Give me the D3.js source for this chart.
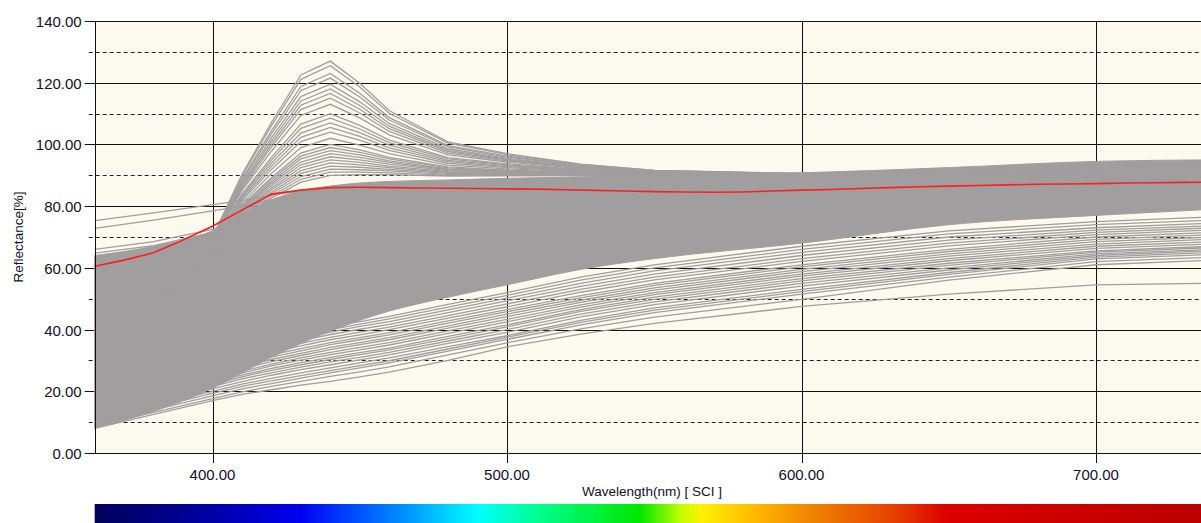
<!DOCTYPE html>
<html>
<head>
<meta charset="utf-8">
<script src="https://cdn.jsdelivr.net/npm/d3@7"></script>
<style>
  body { margin: 0; background: #fff; }
  text { font-family: "Liberation Sans", Arial, sans-serif; fill: #10102a; }
</style>
</head>
<body>
<div id="chart"></div>
<script>
// wavelengths (nm) where the gray curves are sampled
var wavelengths = [360, 380, 400, 410, 420, 430, 440, 450, 460, 480, 500, 525, 550, 600, 650, 700, 740];

// red (selected) sample, every 10 nm
var redWavelengths = [360, 370, 380, 390, 400, 410, 420, 430, 440, 450, 460, 470, 480, 490, 500, 510, 520, 530, 540, 550,
                      560, 570, 580, 590, 600, 610, 620, 630, 640, 650, 660, 670, 680, 690, 700, 710, 720, 730, 740];
var redCurve = [60.5, 62.5, 64.9, 69, 73.5, 78.7, 83.9, 85.2, 86, 86.1, 86, 85.9, 85.8, 85.7, 85.6, 85.5, 85.3, 85.1, 84.9, 84.7,
                84.6, 84.5, 84.6, 84.9, 85.2, 85.4, 85.7, 86, 86.3, 86.5, 86.7, 86.9, 87.1, 87.2, 87.3, 87.5, 87.6, 87.7, 87.8];

// envelope of the dense bundle of gray curves
var coreUpper = [64, 67, 72, 77, 82, 85, 86.5, 87.5, 88, 88.5, 89, 89.5, 90, 90.8, 92.5, 94.5, 95];
var coreLower = [8, 13.5, 21, 26, 31, 35.5, 39.5, 43, 46, 50.5, 54.5, 59.5, 63, 68, 74, 77, 79];

// curves with the violet/blue peak
var peakCurves = [
  [56, 62, 70, 90.2, 107.1, 122.5, 127, 119.8, 111, 100.8, 97, 93.6, 91.6, 90.6, 91.8, 93.5, 94.2],
  [55, 61.5, 69.5, 89.6, 106.1, 121.1, 125.5, 118.6, 110.1, 100.4, 96.7, 93.5, 91.6, 90.5, 91.7, 93.4, 94],
  [54, 61, 69, 88.7, 104.4, 118.8, 123, 116.6, 108.7, 99.6, 96.2, 93.2, 91.5, 90.5, 91.6, 93.2, 94],
  [53, 60.5, 69, 88.1, 103.4, 117.4, 121.5, 115.4, 107.9, 99.2, 95.9, 93.1, 91.4, 90.4, 91.5, 93.1, 93.8],
  [52, 60, 68.5, 87.4, 102.1, 115.5, 119.5, 113.8, 106.8, 98.6, 95.5, 92.9, 91.3, 90.4, 91.5, 93, 93.8],
  [51, 59.5, 68.5, 86.8, 101.1, 114.1, 118, 112.6, 105.9, 98.1, 95.2, 92.7, 91.3, 90.3, 91.4, 93, 93.7],
  [50, 59, 68, 86.3, 100.1, 112.7, 116.5, 111.4, 105.1, 97.7, 94.9, 92.6, 91.2, 90.3, 91.4, 92.9, 93.6],
  [49, 58.5, 68, 85.7, 99.1, 111.3, 115, 110.2, 104.2, 97.2, 94.7, 92.4, 91.2, 90.2, 91.3, 92.8, 93.5],
  [48, 58, 67.5, 85, 97.8, 109.4, 113, 108.6, 103.1, 96.6, 94.3, 92.2, 91.1, 90.2, 91.3, 92.7, 93.4],
  [47, 57, 67, 83.9, 95.8, 106.6, 110, 106.2, 101.4, 95.7, 93.7, 91.9, 91, 90.1, 91.2, 92.6, 93.3],
  [46.5, 56.5, 67, 83.3, 94.9, 105.2, 108.5, 105, 100.6, 95.3, 93.4, 91.8, 90.9, 90.1, 91.2, 92.6, 93.2],
  [46, 56, 66.5, 82.8, 93.9, 103.7, 107, 103.8, 99.8, 94.8, 93.1, 91.6, 90.8, 90.1, 91.2, 92.5, 93.2],
  [45.5, 55.5, 66, 82.2, 92.9, 102.3, 105.5, 102.6, 98.9, 94.4, 92.8, 91.5, 90.8, 90, 91.1, 92.4, 93.1],
  [45, 55, 66, 81.7, 91.9, 100.9, 104, 101.4, 98.1, 93.9, 92.5, 91.3, 90.7, 90, 91.1, 92.4, 93.1],
  [44, 54, 65.5, 80.9, 90.6, 99, 102, 99.8, 97, 93.3, 92.1, 91.1, 90.6, 90, 91.1, 92.3, 93],
  [43, 53, 65, 80.2, 89.2, 97.2, 100, 98.2, 95.8, 92.7, 91.7, 90.9, 90.6, 89.9, 91, 92.2, 92.9],
  [42.5, 52.5, 64.5, 79.8, 88.6, 96.2, 99, 97.4, 95.3, 92.4, 91.5, 90.8, 90.5, 89.9, 91, 92.2, 92.9],
  [42, 52, 64.5, 79.4, 87.9, 95.3, 98, 96.6, 94.7, 92.1, 91.3, 90.7, 90.5, 89.9, 91, 92.1, 92.8],
  [41.5, 51.5, 64, 79.1, 87.3, 94.3, 97, 95.8, 94.2, 91.8, 91.1, 90.6, 90.4, 89.8, 90.9, 92.1, 92.8],
  [41, 51, 64, 78.7, 86.6, 93.4, 96, 95, 93.6, 91.5, 91, 90.5, 90.4, 89.8, 90.9, 92, 92.7],
  [40.5, 50.5, 63.5, 78.3, 85.9, 92.5, 95, 94.2, 93, 91.2, 90.8, 90.4, 90.4, 89.8, 90.9, 92, 92.7],
  [40, 50, 63.5, 78, 85.3, 91.5, 94, 93.4, 92.5, 90.9, 90.6, 90.3, 90.3, 89.8, 90.9, 91.9, 92.6],
  [39.5, 49.5, 63, 77.6, 84.6, 90.6, 93, 92.6, 91.9, 90.6, 90.4, 90.2, 90.3, 89.7, 90.8, 91.9, 92.6],
  [39, 49, 63, 77.2, 84, 89.6, 92, 91.8, 91.4, 90.3, 90.2, 90.1, 90.2, 89.7, 90.8, 91.8, 92.5],
  [38.5, 48.5, 62.5, 76.9, 83.3, 88.7, 91, 91, 90.8, 90, 90, 90, 90.2, 89.7, 90.8, 91.8, 92.5],
  [38, 48, 62.5, 76.5, 82.6, 87.8, 90, 90.2, 90.2, 89.7, 89.8, 89.9, 90.2, 89.7, 90.8, 91.7, 92.4]
];

// curves above the red one on the short-wave side
var upperCurves = [
  [75.3, 77.8, 80.5, 81.8, 83.5, 85, 86.3, 87, 87.5, 88, 88.5, 89, 89.5, 90, 91, 92, 93],
  [72.8, 75.5, 78.5, 80, 82, 83.8, 85.3, 86.3, 87, 87.6, 88.2, 88.8, 89.3, 89.8, 90.8, 91.8, 92.8],
  [66, 68.5, 72.5, 75.5, 79, 82.5, 84.8, 86, 86.8, 87.5, 88, 88.6, 89.1, 89.6, 90.6, 91.6, 92.6],
  [64.8, 67.2, 71.5, 74.5, 78, 81.5, 84, 85.5, 86.5, 87.2, 87.8, 88.4, 89, 89.5, 90.5, 91.5, 92.5]
];

// dark samples fanning out below the bundle
var lowerCurves = [
  [8, 12.5, 17, 19, 20.5, 22, 23.2, 24.7, 26.2, 30, 34.4, 38.5, 42, 47.5, 51.5, 54.5, 55],
  [8.8, 13.2, 17.6, 19.8, 21.6, 23.2, 24.8, 26.3, 27.9, 31.8, 35.7, 40.2, 44, 49.8, 56, 61, 62.5],
  [9.5, 14, 18.5, 20.8, 22.5, 24.3, 26, 27.6, 29.2, 33, 36.8, 41.5, 45.5, 51.5, 57, 62, 63.5],
  [10.3, 14.7, 19.3, 21.6, 23.4, 25.1, 26.7, 28.3, 29.9, 33.7, 37.5, 42.3, 46.3, 52.3, 57.9, 62.9, 64.4],
  [11, 15.5, 20, 22.3, 24.2, 26, 27.6, 29.2, 30.8, 34.5, 38, 43, 47, 53, 58.5, 63.5, 65],
  [11.7, 16.3, 20.8, 23.1, 25.2, 27, 28.6, 30.2, 31.8, 35.5, 39.1, 44.1, 48.1, 54.1, 59.3, 64, 65.6],
  [12.5, 17, 21.5, 24, 26, 27.8, 29.5, 31, 32.6, 36.3, 40, 45, 49, 55, 60, 64.5, 66],
  [13.3, 17.7, 22.1, 24.7, 26.8, 28.6, 30.3, 31.9, 33.4, 37.1, 40.9, 45.9, 49.8, 55.8, 60.8, 65.1, 66.6],
  [14, 18.3, 22.8, 25.2, 27.4, 29.3, 31, 32.5, 34, 37.8, 41.5, 46.5, 50.5, 56.5, 61.5, 65.5, 67],
  [14.7, 18.9, 23.5, 25.9, 28.2, 30.1, 31.9, 33.4, 35, 38.8, 42.5, 47.3, 51.3, 57.3, 62.3, 66.3, 67.8],
  [15.5, 19.5, 24, 26.5, 28.8, 30.8, 32.6, 34.2, 35.8, 39.6, 43.3, 48, 52, 58, 63, 67, 68.5],
  [16.3, 20.3, 24.8, 27.3, 29.6, 31.6, 33.5, 35.1, 36.7, 40.5, 44.2, 48.8, 52.8, 58.8, 63.8, 67.7, 69.3],
  [17, 21, 25.5, 28, 30.3, 32.3, 34.2, 35.8, 37.4, 41.2, 45, 49.5, 53.5, 59.5, 64.5, 68.5, 70],
  [17.7, 21.8, 26.3, 28.8, 31.1, 33.1, 35.1, 36.7, 38.3, 42.1, 45.8, 50.3, 54.3, 60.3, 65.3, 69.2, 70.8],
  [18.5, 22.5, 27, 29.5, 31.8, 33.8, 35.8, 37.4, 39, 42.8, 46.5, 51, 55, 61, 66, 70, 71.5],
  [19.3, 23.3, 27.7, 30.3, 32.6, 34.7, 36.7, 38.3, 40, 43.7, 47.4, 52.1, 56.1, 62.1, 67.1, 70.8, 72.3],
  [20, 24, 28.5, 31, 33.3, 35.5, 37.5, 39.2, 40.8, 44.5, 48.3, 53, 57, 63, 68, 71.5, 73],
  [20.7, 24.8, 29.3, 31.8, 34.2, 36.4, 38.4, 40.1, 41.7, 45.5, 49.3, 54, 58, 64, 69, 72.2, 73.7],
  [21.5, 25.5, 30, 32.5, 35, 37.2, 39.2, 41, 42.6, 46.4, 50.2, 55, 59, 65, 70, 73, 74.5],
  [22.3, 26.2, 30.7, 33.3, 35.8, 38, 40, 41.8, 43.5, 47.3, 51.1, 56, 60, 66, 71, 74, 75.5],
  [23, 27, 31.5, 34, 36.5, 38.8, 40.8, 42.6, 44.3, 48.2, 52, 57, 61, 67, 72, 75, 76.5]
];

var xTicks = [400, 500, 600, 700];
var yMajor = [0, 20, 40, 60, 80, 100, 120, 140];
var yMinor = [10, 30, 50, 70, 90, 110, 130];

// visible spectrum under the axis
var spectrumNm = [360, 400, 430, 445, 464, 490, 509, 545, 559, 566, 586, 600, 633, 649, 740];
var spectrumColor = ["#000058", "#0000a8", "#0000f0", "#0040ff", "#008cff", "#00ffff", "#00ff96", "#00e600",
                     "#c0ff00", "#fff000", "#ffb400", "#f08c00", "#e63c00", "#dc0000", "#b80000"];

var W = 1201, H = 523;

var svg = d3.select("#chart").append("svg")
    .attr("width", W)
    .attr("height", H);

var x = d3.scaleLinear().domain([360, 740]).range([94.7, 94.7 + 380 * 2.945]);
var y = d3.scaleLinear().domain([0, 140]).range([453, 21]);

var px = function(v) { return Math.round(x(v)) + 0.5; };
var py = function(v) { return Math.round(y(v)) + 0.5; };

// plot background
svg.append("rect")
    .attr("x", x(360)).attr("y", y(140))
    .attr("width", x(740) - x(360)).attr("height", y(0) - y(140))
    .attr("fill", "#fcf9ee");

// grid
svg.append("g").selectAll("line").data(yMinor).enter().append("line")
    .attr("x1", x(360) - 6).attr("x2", x(740))
    .attr("y1", py).attr("y2", py)
    .attr("stroke", "#222").attr("stroke-dasharray", "4,3");

svg.append("g").selectAll("line").data(yMajor).enter().append("line")
    .attr("x1", x(360) - 10).attr("x2", x(740))
    .attr("y1", py).attr("y2", py)
    .attr("stroke", "#111");

svg.append("g").selectAll("line").data(xTicks).enter().append("line")
    .attr("x1", px).attr("x2", px)
    .attr("y1", y(140)).attr("y2", y(0) + 10)
    .attr("stroke", "#111");

// curves
var line = d3.line()
    .x(function(d, i) { return x(wavelengths[i]); })
    .y(function(d) { return y(d); });

var redLine = d3.line()
    .x(function(d, i) { return x(redWavelengths[i]); })
    .y(function(d) { return y(d); });

var area = d3.area()
    .x(function(d, i) { return x(wavelengths[i]); })
    .y0(function(d, i) { return y(coreLower[i]); })
    .y1(function(d) { return y(d); })
    .curve(d3.curveMonotoneX);

var gray = "#a19e9f";

svg.append("path")
    .datum(coreUpper)
    .attr("d", area)
    .attr("fill", gray)
    .attr("stroke", gray)
    .attr("stroke-width", 1);

svg.append("g").selectAll("path")
    .data(lowerCurves.concat(peakCurves, upperCurves))
    .enter().append("path")
    .attr("d", line)
    .attr("fill", "none")
    .attr("stroke", gray)
    .attr("stroke-width", 1.3);

svg.append("path")
    .datum(redCurve)
    .attr("d", redLine)
    .attr("fill", "none")
    .attr("stroke", "#ff1e1e")
    .attr("stroke-width", 1.6);

// axis line
svg.append("line")
    .attr("x1", px(360)).attr("x2", px(360))
    .attr("y1", y(140)).attr("y2", y(0))
    .attr("stroke", "#111");

// tick labels
svg.append("g").selectAll("text").data(yMajor).enter().append("text")
    .attr("x", x(360) - 13)
    .attr("y", function(d) { return y(d) + 6; })
    .attr("text-anchor", "end")
    .style("font-size", "15px")
    .text(d3.format(".2f"));

svg.append("g").selectAll("text").data(xTicks).enter().append("text")
    .attr("x", function(d) { return x(d); })
    .attr("y", y(0) + 27)
    .attr("text-anchor", "middle")
    .style("font-size", "15px")
    .text(d3.format(".2f"));

svg.append("text")
    .attr("x", 652)
    .attr("y", 496)
    .attr("text-anchor", "middle")
    .style("font-size", "13.5px")
    .text("Wavelength(nm) [ SCI ]");

svg.append("text")
    .attr("transform", "translate(23,237) rotate(-90)")
    .attr("text-anchor", "middle")
    .style("font-size", "13.5px")
    .text("Reflectance[%]");

// spectrum bar
var grad = svg.append("defs").append("linearGradient")
    .attr("id", "spectrum")
    .attr("gradientUnits", "userSpaceOnUse")
    .attr("x1", x(360)).attr("x2", x(740))
    .attr("y1", 0).attr("y2", 0);

grad.selectAll("stop").data(spectrumNm).enter().append("stop")
    .attr("offset", function(d) { return (x(d) - x(360)) / (x(740) - x(360)); })
    .attr("stop-color", function(d, i) { return spectrumColor[i]; });

svg.append("rect")
    .attr("x", x(360)).attr("y", 504)
    .attr("width", x(740) - x(360)).attr("height", 19)
    .attr("fill", "url(#spectrum)");
</script>
</body>
</html>
